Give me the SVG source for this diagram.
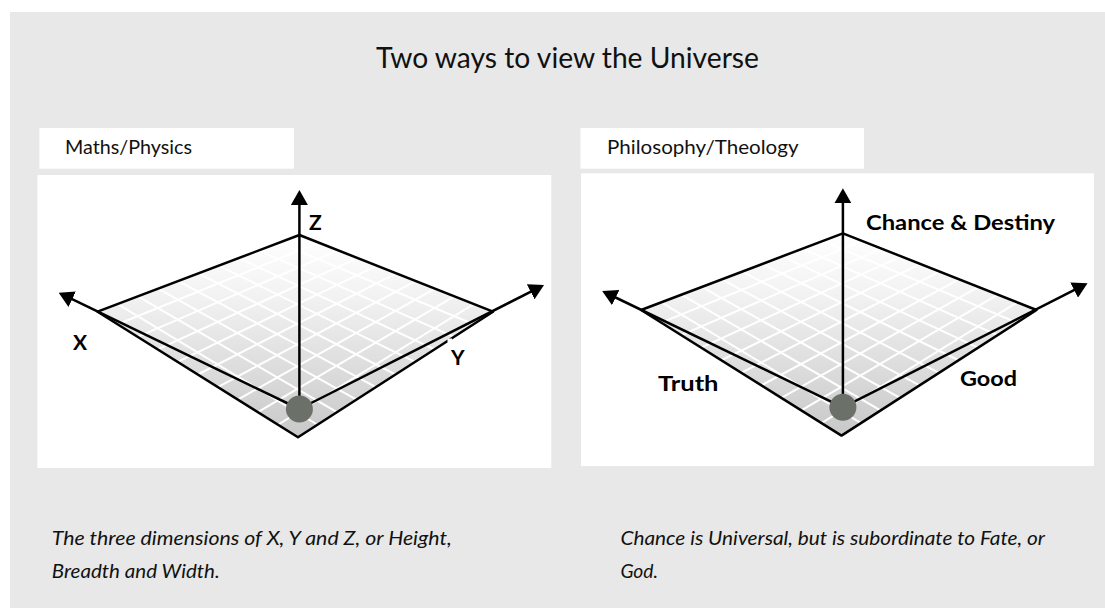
<svg xmlns="http://www.w3.org/2000/svg" xmlns:xlink="http://www.w3.org/1999/xlink" width="1105" height="608" viewBox="0 0 1105 608">
<style>
.title{font-family:Lato,"Liberation Sans",sans-serif;font-size:28px;fill:#111}
.hdr{font-family:Lato,"Liberation Sans",sans-serif;font-size:19px;fill:#111}
.cap{font-family:Lato,"Liberation Sans",sans-serif;font-size:20px;font-style:italic;fill:#111}
.ax{font-family:Lato,"Liberation Sans",sans-serif;font-size:21px;font-weight:700;fill:#000}
.edge{stroke:#000;stroke-width:2.5;fill:none;stroke-linejoin:round}
.axis{stroke:#000;stroke-width:2.5;fill:none}
.grid line{stroke:#fff;stroke-width:2}
.box{fill:#fff}
</style>
<defs>
<linearGradient id="pg" x1="0" y1="0" x2="0" y2="1">
<stop offset="0" stop-color="#ffffff"/>
<stop offset="0.3" stop-color="#f2f2f2"/>
<stop offset="1" stop-color="#c8c8c8"/>
</linearGradient>
<marker id="ah" markerUnits="userSpaceOnUse" viewBox="0 0 15 17" markerWidth="15" markerHeight="17" refX="7" refY="8.5" orient="auto">
<path d="M0,0 L15,8.5 L0,17 z" fill="#000"/>
</marker>
<g id="plane">
<polygon points="299.4,235 97.6,311.7 298,437.3 493,311.7" fill="url(#pg)"/>
<g class="grid">
<line x1="279.22" y1="242.67" x2="473.5" y2="324.26"/>
<line x1="259.04" y1="250.34" x2="454" y2="336.82"/>
<line x1="238.86" y1="258.01" x2="434.5" y2="349.38"/>
<line x1="218.68" y1="265.68" x2="415" y2="361.94"/>
<line x1="198.5" y1="273.35" x2="395.5" y2="374.5"/>
<line x1="178.32" y1="281.02" x2="376" y2="387.06"/>
<line x1="158.14" y1="288.69" x2="356.5" y2="399.62"/>
<line x1="137.96" y1="296.36" x2="337" y2="412.18"/>
<line x1="117.78" y1="304.03" x2="317.5" y2="424.74"/>
<line x1="318.76" y1="242.67" x2="117.64" y2="324.26"/>
<line x1="338.12" y1="250.34" x2="137.68" y2="336.82"/>
<line x1="357.48" y1="258.01" x2="157.72" y2="349.38"/>
<line x1="376.84" y1="265.68" x2="177.76" y2="361.94"/>
<line x1="396.2" y1="273.35" x2="197.8" y2="374.5"/>
<line x1="415.56" y1="281.02" x2="217.84" y2="387.06"/>
<line x1="434.92" y1="288.69" x2="237.88" y2="399.62"/>
<line x1="454.28" y1="296.36" x2="257.92" y2="412.18"/>
<line x1="473.64" y1="304.03" x2="277.96" y2="424.74"/>
</g>
<polygon class="edge" points="299.4,235 97.6,311.7 298,437.3 493,311.7"/>
</g>
<g id="axes">
<line class="axis" x1="299.4" y1="409" x2="299.4" y2="198" marker-end="url(#ah)"/>
<line class="axis" x1="299.4" y1="409" x2="65.9" y2="296.2" marker-end="url(#ah)"/>
<line class="axis" x1="299.4" y1="409" x2="536.9" y2="288.6" marker-end="url(#ah)"/>
</g>
</defs>

<rect x="10" y="12" width="1095" height="596" fill="#e8e8e8"/>

<g id="title"><text class="title" x="376" y="68" textLength="383" lengthAdjust="spacingAndGlyphs">Two ways to view the Universe</text></g>

<g id="left-header">
<rect class="box" x="39.4" y="128" width="254.6" height="40.7"/>
<text class="hdr" x="65" y="154" textLength="127" lengthAdjust="spacingAndGlyphs">Maths/Physics</text>
</g>
<g id="right-header">
<rect class="box" x="580.5" y="128" width="283.5" height="40.7"/>
<text class="hdr" x="607" y="154" textLength="191.5" lengthAdjust="spacingAndGlyphs">Philosophy/Theology</text>
</g>

<g id="left-panel">
<rect class="box" x="37.4" y="175" width="513.9" height="293"/>
<use xlink:href="#plane"/>
</g>
<g id="right-panel">
<rect class="box" x="581" y="173.3" width="513" height="292.7"/>
<use xlink:href="#plane" transform="translate(543.5,-1.7)"/>
</g>

<g id="connectors">
<use xlink:href="#axes"/>
<use xlink:href="#axes" transform="translate(543.5,-1.7)"/>
</g>

<g id="left-origin"><circle cx="299.4" cy="409" r="13.5" fill="#6b7169"/></g>
<g id="right-origin"><circle cx="842.9" cy="407.3" r="13.5" fill="#6b7169"/></g>

<g id="left-labels">
<text class="ax" x="309" y="230">Z</text>
<text class="ax" x="73" y="350">X</text>
<rect x="447.5" y="338.5" width="4.5" height="4" fill="#fff"/>
<text class="ax" x="451" y="365">Y</text>
</g>
<g id="right-labels">
<text class="ax" x="866" y="230" textLength="189" lengthAdjust="spacingAndGlyphs">Chance &amp; Destiny</text>
<text class="ax" x="658" y="390.7" textLength="60.5" lengthAdjust="spacingAndGlyphs">Truth</text>
<text class="ax" x="960" y="386" textLength="57" lengthAdjust="spacingAndGlyphs">Good</text>
</g>

<g id="left-caption">
<text class="cap" x="51.8" y="545" textLength="400" lengthAdjust="spacingAndGlyphs">The three dimensions of X, Y and Z, or Height,</text>
<text class="cap" x="51.8" y="578" textLength="168" lengthAdjust="spacingAndGlyphs">Breadth and Width.</text>
</g>
<g id="right-caption">
<text class="cap" x="620.4" y="545" textLength="424.6" lengthAdjust="spacingAndGlyphs">Chance is Universal, but is subordinate to Fate, or</text>
<text class="cap" x="620.4" y="578" textLength="37.6" lengthAdjust="spacingAndGlyphs">God.</text>
</g>
</svg>
